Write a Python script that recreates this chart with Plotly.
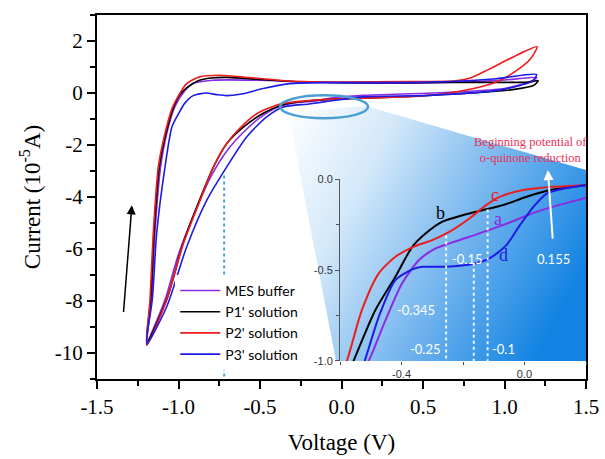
import base64
import plotly.graph_objects as go

# ---------------- main CV loops (V, 1e-5 A) ----------------
mes_v = [-1.19, -1.165, -1.145, -1.11, -1.07, -1.02, -0.96, -0.91, -0.79, -0.52, -0.21, 0.2, 0.6, 1.0, 1.197,
         1.16, 1.0, 0.6, 0.13, -0.07, -0.18, -0.29, -0.4, -0.5, -0.6, -0.7, -0.8, -0.9, -1.0, -1.08, -1.19]
mes_i = [-9.5, -7.9, -5.4, -2.85, -1.5, -0.5, 0.1, 0.36, 0.49, 0.49, 0.42, 0.38, 0.4, 0.5, 0.6,
         0.45, 0.17, 0.01, -0.09, -0.2, -0.32, -0.38, -0.57, -0.95, -1.5, -2.2, -3.2, -4.6, -6.2, -7.9, -9.5]

p1_v = [-1.195, -1.17, -1.15, -1.118, -1.075, -1.03, -0.99, -0.95, -0.88, -0.8, -0.7, -0.5, -0.3, 0.0, 0.4, 0.8, 1.15, 1.207,
        1.18, 1.05, 0.75, 0.34, 0.0, -0.2, -0.36, -0.48, -0.6, -0.705, -0.786, -0.87, -0.97, -1.07, -1.195]
p1_i = [-9.6, -7.9, -5.4, -2.85, -1.5, -0.55, -0.05, 0.2, 0.47, 0.58, 0.6, 0.52, 0.44, 0.4, 0.4, 0.41, 0.42, 0.48,
        0.3, 0.13, -0.02, -0.15, -0.23, -0.3, -0.45, -0.78, -1.3, -1.95, -2.85, -4.1, -5.75, -7.9, -9.6]

p2_v = [-1.195, -1.175, -1.155, -1.124, -1.083, -1.04, -1.0, -0.95, -0.87, -0.75, -0.56, -0.32, 0.0, 0.4, 0.7, 0.8, 0.9, 1.0, 1.1, 1.2,
        1.16, 1.075, 0.95, 0.81, 0.64, 0.44, 0.13, -0.07, -0.214, -0.377, -0.52, -0.623, -0.705, -0.786, -0.868, -0.97, -1.073, -1.195]
p2_i = [-9.7, -7.97, -5.41, -2.85, -1.56, -0.6, -0.1, 0.36, 0.62, 0.68, 0.59, 0.46, 0.42, 0.44, 0.47, 0.6, 0.9, 1.22, 1.53, 1.78,
        1.32, 0.87, 0.42, 0.17, -0.02, -0.13, -0.2, -0.24, -0.3, -0.42, -0.8, -1.35, -1.95, -2.85, -4.13, -5.79, -7.97, -9.7]

p3_v = [-1.195, -1.16, -1.134, -1.083, -1.04, -1.0, -0.96, -0.91, -0.83, -0.76, -0.705, -0.623, -0.48, -0.316, -0.07, 0.3, 0.7, 0.95, 1.197,
        1.17, 1.1, 0.95, 0.54, 0.13, -0.06, -0.2, -0.357, -0.459, -0.582, -0.705, -0.827, -0.95, -1.073, -1.195]
p3_i = [-9.65, -7.9, -5.4, -2.85, -1.3, -0.8, -0.38, -0.1, 0.0, -0.07, -0.1, -0.05, 0.17, 0.36, 0.4, 0.4, 0.45, 0.55, 0.71,
        0.45, 0.3, 0.1, -0.09, -0.15, -0.3, -0.42, -0.54, -0.92, -1.69, -2.85, -4.13, -5.92, -8.23, -9.65]

# ---------------- inset (zoomed reduction onset) ----------------
in_a_v = [-0.525, -0.507, -0.452, -0.398, -0.343, -0.289, -0.179, -0.07, 0.039, 0.149, 0.2]
in_a_i = [-1.05, -1.0, -0.775, -0.573, -0.445, -0.381, -0.317, -0.253, -0.18, -0.125, -0.103]
in_b_v = [-0.575, -0.556, -0.485, -0.42, -0.365, -0.321, -0.267, -0.201, -0.135, -0.07, 0.007, 0.083, 0.2]
in_b_i = [-1.08, -1.0, -0.72, -0.537, -0.372, -0.298, -0.234, -0.198, -0.17, -0.143, -0.097, -0.06, -0.033]
in_c_v = [-0.6, -0.578, -0.529, -0.474, -0.42, -0.365, -0.30, -0.245, -0.179, -0.125, -0.081, -0.004, 0.094, 0.2]
in_c_i = [-1.08, -1.0, -0.72, -0.518, -0.427, -0.375, -0.335, -0.29, -0.216, -0.143, -0.097, -0.06, -0.042, -0.033]
in_d_v = [-0.535, -0.52, -0.474, -0.42, -0.365, -0.332, -0.256, -0.168, -0.114, -0.059, -0.015, 0.029, 0.072, 0.127, 0.2]
in_d_i = [-1.06, -1.0, -0.757, -0.555, -0.496, -0.482, -0.482, -0.467, -0.436, -0.363, -0.253, -0.152, -0.079, -0.051, -0.033]

x_ticks = [-1.5, -1.0, -0.5, 0.0, 0.5, 1.0, 1.5]
x_ticktext = ["-1.5", "-1.0", "-0.5", "0.0", "0.5", "1.0", "1.5"]
y_ticks = [2, 0, -2, -4, -6, -8, -10]
y_ticktext = ["2", "0", "-2", "-4", "-6", "-8", "-10"]
in_x_ticks = [-0.4, 0.0]
in_x_ticktext = ["-0.4", "0.0"]
in_y_ticks = [0.0, -0.5, -1.0]
in_y_ticktext = ["0.0", "-0.5", "-1.0"]

PURPLE = "#8a2be2"
BLACK = "#000000"
RED = "#ee1c1c"
BLUE = "#1c1ce6"

serif = "Liberation Serif"
sans = "Lato"

fig = go.Figure()
for name, v, i, c in [("MES buffer", mes_v, mes_i, PURPLE),
                      ("P1' solution", p1_v, p1_i, BLACK),
                      ("P2' solution", p2_v, p2_i, RED),
                      ("P3' solution", p3_v, p3_i, BLUE)]:
    fig.add_trace(go.Scatter(x=v, y=i, mode="lines", name=name,
                             line=dict(color=c, width=1.6, shape="spline", smoothing=0.7)))

for v, i, c in [(in_a_v, in_a_i, PURPLE), (in_b_v, in_b_i, BLACK),
                (in_c_v, in_c_i, RED), (in_d_v, in_d_i, BLUE)]:
    fig.add_trace(go.Scatter(x=v, y=i, mode="lines", showlegend=False, xaxis="x2", yaxis="y2",
                             line=dict(color=c, width=2, shape="spline", smoothing=0.7)))

# gradient fan behind the inset (plot-area pixel coordinates, 489 x 364)
svg = ('<svg xmlns="http://www.w3.org/2000/svg" width="489" height="364" viewBox="0 0 489 364" '
       'preserveAspectRatio="none"><defs><linearGradient id="g" x1="191" y1="91" x2="489" y2="250" '
       'gradientUnits="userSpaceOnUse"><stop offset="0" stop-color="#ffffff"/>'
       '<stop offset="0.3" stop-color="#d3e8f9"/><stop offset="0.65" stop-color="#72b4ee"/>'
       '<stop offset="1" stop-color="#1283e2"/></linearGradient></defs>'
       '<polygon points="191,97 269,91 489,155 489,346 239,346" fill="url(#g)"/></svg>')
src = "data:image/svg+xml;base64," + base64.b64encode(svg.encode()).decode()
fig.add_layout_image(source=src, xref="paper", yref="paper", x=0, y=1, sizex=1, sizey=1,
                     sizing="stretch", xanchor="left", yanchor="top", layer="below")

# ellipse marking the zoomed region
fig.add_shape(type="circle", xref="x", yref="y", x0=-0.377, x1=0.163, y0=-0.97, y1=-0.09,
              line=dict(color="#4a9fd0", width=2.5))
# dotted marker line in main plot
fig.add_shape(type="line", xref="x", yref="y", x0=-0.72, x1=-0.72, y0=-3.17, y1=-10.9,
              line=dict(color="#4aa3d8", width=2, dash="dot"))
# white dotted lines in inset
for xv, ytop in [(-0.255, -0.31), (-0.165, -0.46), (-0.12, -0.165)]:
    fig.add_shape(type="line", xref="x2", yref="y2", x0=xv, x1=xv, y0=ytop, y1=-1.0,
                  line=dict(color="rgba(255,255,255,0.9)", width=2, dash="dot"))

# scan direction arrow
fig.add_annotation(x=-1.286, y=-4.32, ax=-1.338, ay=-8.48, xref="x", yref="y", axref="x", ayref="y",
                   text="", showarrow=True, arrowhead=2, arrowsize=1.2, arrowwidth=1.5, arrowcolor="black")
# white arrow in inset (inset-domain coordinates)
fig.add_annotation(x=0.845, y=1.05, ax=0.865, ay=0.665, xref="x2 domain", yref="y2 domain",
                   axref="x2 domain", ayref="y2 domain",
                   text="", showarrow=True, arrowhead=2, arrowsize=1, arrowwidth=2, arrowcolor="white")
fig.add_annotation(x=0.775, y=1.16, xref="x2 domain", yref="y2 domain", showarrow=False,
                   xanchor="center", yanchor="middle",
                   text="Beginning potential of<br>o-quinone reduction",
                   font=dict(family=serif, size=12.5, color="#e8305a"))

for txt, xv, yv in [("-0.345", -0.354, -0.72), ("-0.15", -0.184, -0.44), ("0.155", 0.095, -0.44),
                    ("-0.25", -0.321, -0.934), ("-0.1", -0.069, -0.934)]:
    fig.add_annotation(x=xv, y=yv, xref="x2", yref="y2", text=txt, showarrow=False,
                       font=dict(family=sans, size=13, color="white"))

for txt, xv, yv, c in [("b", -0.272, -0.187, BLACK), ("c", -0.095, -0.088, RED),
                       ("a", -0.085, -0.22, PURPLE), ("d", -0.069, -0.418, BLUE)]:
    fig.add_annotation(x=xv, y=yv, xref="x2", yref="y2", text=txt, showarrow=False,
                       font=dict(family=serif, size=18, color=c))

fig.update_layout(
    width=605, height=459,
    margin=dict(l=97, r=19, t=15, b=80, autoexpand=False),
    font=dict(family=serif, color="black"),
    paper_bgcolor="white", plot_bgcolor="rgba(0,0,0,0)",
    xaxis=dict(range=[-1.5, 1.5], tickvals=x_ticks, ticktext=x_ticktext, ticks="outside", ticklen=8,
               tickwidth=2, tickcolor="black", showline=True, linewidth=2, linecolor="black", mirror=True,
               showgrid=False, zeroline=False, automargin=False,
               minor=dict(dtick=0.25, tick0=-1.5, ticks="outside", ticklen=5, tickwidth=1.5, tickcolor="black"),
               tickfont=dict(family=serif, size=21, color="black"),
               title=dict(text="Voltage (V)", font=dict(family=serif, size=23, color="black"), standoff=16)),
    yaxis=dict(range=[-11, 3], tickvals=y_ticks, ticktext=y_ticktext, ticks="outside", ticklen=8,
               tickwidth=2, tickcolor="black", showline=True, linewidth=2, linecolor="black", mirror=True,
               showgrid=False, zeroline=False, automargin=False,
               minor=dict(dtick=1, tick0=0, ticks="outside", ticklen=5, tickwidth=1.5, tickcolor="black"),
               tickfont=dict(family=serif, size=21, color="black"),
               title=dict(text="Current (10<sup>-5</sup>A)", font=dict(family=serif, size=23, color="black"),
                          standoff=8)),
    xaxis2=dict(domain=[0.497, 1.0], anchor="y2", range=[-0.6, 0.2], tickvals=in_x_ticks,
                ticktext=in_x_ticktext, ticks="outside", ticklen=3, tickcolor="#444", showline=False,
                showgrid=False, zeroline=False, automargin=False,
                minor=dict(dtick=0.2, tick0=-0.6, ticks="outside", ticklen=3, tickcolor="#444"),
                tickfont=dict(family="Liberation Sans", size=11, color="#333")),
    yaxis2=dict(domain=[0.0495, 0.549], anchor="x2", range=[-1.0, 0.0], tickvals=in_y_ticks,
                ticktext=in_y_ticktext, ticks="outside", ticklen=4, tickcolor="#555", showline=True,
                linewidth=1, linecolor="#555", showgrid=False, zeroline=False, automargin=False,
                minor=dict(dtick=0.25, tick0=0, ticks="outside", ticklen=3, tickcolor="#555"),
                tickfont=dict(family="Liberation Sans", size=11, color="#333")),
    legend=dict(x=0.16, y=0.286, xanchor="left", yanchor="top", bgcolor="white", borderwidth=0,
                font=dict(family=sans, size=14, color="black"), tracegroupgap=0,
                itemwidth=40),
    showlegend=True,
)

fig.write_html("out.html")
